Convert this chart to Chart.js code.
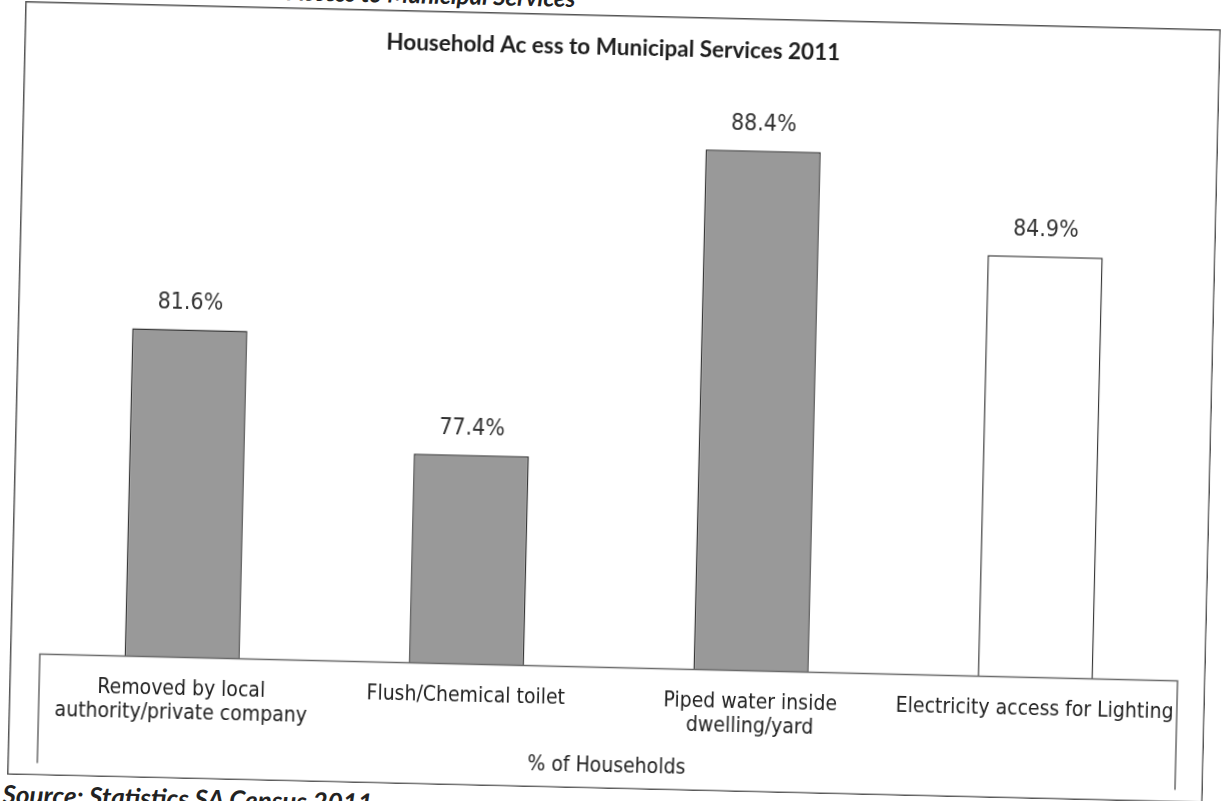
<!DOCTYPE html>
<html>
<head>
<meta charset="utf-8">
<title>Household Access to Municipal Services 2011</title>
<script src="https://cdn.jsdelivr.net/npm/chart.js@4.4.1/dist/chart.umd.min.js"></script>
<style>
  html, body { margin: 0; padding: 0; background: #ffffff; overflow: hidden; width: 1224px; height: 801px; }
  #page {
    position: absolute; left: 0; top: 0; width: 1224px; height: 840px;
    transform: rotate(1.35deg); transform-origin: 612px 400px;
    background: #ffffff;
  }
  #caption {
    position: absolute; left: 0; width: 566px; top: -13px;
    text-align: right; font: italic 700 24px Lato, "Open Sans", sans-serif;
    line-height: 24px; color: #222; white-space: nowrap;
  }
  #source {
    position: absolute; left: 12px; top: 794px;
    font: italic 700 26px Lato, "Open Sans", sans-serif;
    line-height: 28px; color: #222; white-space: nowrap;
  }
  #chartBox { position: absolute; left: 16px; top: 15px; width: 1196px; height: 774px; }
</style>
</head>
<body>
<div id="page">
  <div id="caption">Household Access to Municipal Services</div>
  <div id="chartBox"><canvas id="chart" width="1196" height="774"></canvas></div>
  <div id="source">Source: Statistics SA Census 2011</div>
</div>
<script>
// Services and the share of households with access (%)
const services = [
  ["Removed by local", "authority/private company"],
  ["Flush/Chemical toilet"],
  ["Piped water inside", "dwelling/yard"],
  ["Electricity access for Lighting"]
];
const householdShare = [81.6, 77.4, 88.4, 84.9];
const axisRange = [70, 90];

const labelFont = '"DejaVu Sans Condensed", "DejaVu Sans", sans-serif';

// white chart area with a thin border around the whole chart
const frame = {
  id: 'frame',
  beforeDraw(chart) {
    const { ctx, width, height } = chart;
    ctx.save();
    ctx.fillStyle = '#ffffff';
    ctx.fillRect(0, 0, width, height);
    ctx.strokeStyle = '#555555';
    ctx.lineWidth = 1.5;
    ctx.strokeRect(0.75, 0.75, width - 1.5, height - 1.5);
    ctx.restore();
  },
  // category axis drawn as an open box under the plot
  afterDraw(chart) {
    const { ctx, chartArea } = chart;
    const bottom = 761.5;
    ctx.save();
    ctx.strokeStyle = '#6a6a6a';
    ctx.lineWidth = 1.5;
    ctx.beginPath();
    ctx.moveTo(chartArea.left, bottom);
    ctx.lineTo(chartArea.left, chartArea.bottom);
    ctx.lineTo(chartArea.right, chartArea.bottom);
    ctx.lineTo(chartArea.right, bottom);
    ctx.stroke();
    ctx.restore();
  }
};

// percentage printed above each bar
const valueLabels = {
  id: 'valueLabels',
  afterDatasetsDraw(chart) {
    const { ctx } = chart;
    const meta = chart.getDatasetMeta(0);
    ctx.save();
    ctx.font = '23px ' + labelFont;
    ctx.fillStyle = '#333333';
    ctx.textAlign = 'center';
    ctx.textBaseline = 'middle';
    meta.data.forEach((bar, i) => {
      ctx.fillText(householdShare[i].toFixed(1) + '%', bar.x, bar.y - 26);
    });
    ctx.restore();
  }
};

new Chart(document.getElementById('chart'), {
  type: 'bar',
  data: {
    labels: services,
    datasets: [{
      label: '% of Households',
      data: householdShare,
      backgroundColor: ['#999999', '#999999', '#999999', '#ffffff'],
      borderColor: '#363636',
      borderWidth: 1.5,
      categoryPercentage: 1,
      barPercentage: 0.405
    }]
  },
  options: {
    responsive: false,
    animation: false,
    devicePixelRatio: 1,
    layout: { padding: { left: 10, right: 28, top: 0, bottom: 0 } },
    plugins: {
      legend: { display: false },
      tooltip: { enabled: false },
      title: {
        display: true,
        text: 'Household Ac ess to Municipal Services 2011',
        color: '#1e1e1e',
        font: { family: 'Lato, "Open Sans", sans-serif', size: 22.5, weight: 'bold', lineHeight: 1.2 },
        padding: { top: 19, bottom: 41 }
      }
    },
    scales: {
      // value axis kept invisible; it only reserves a narrow margin
      y: {
        display: true,
        min: axisRange[0], max: axisRange[1],
        ticks: { display: false },
        grid: { display: false },
        border: { display: false },
        afterFit(scale) { scale.width = 20; }
      },
      x: {
        grid: { display: false, drawTicks: false },
        border: { display: false },
        ticks: {
          color: '#222222',
          font: { family: labelFont, size: 21, lineHeight: '24px' },
          padding: 20,
          maxRotation: 0,
          autoSkip: false
        },
        title: {
          display: true,
          text: '% of Households',
          color: '#222222',
          font: { family: labelFont, size: 21, lineHeight: '24px' },
          padding: { top: 0, bottom: 10.5 }
        },
        afterFit(scale) { scale.height = 121.5; }
      }
    }
  },
  plugins: [frame, valueLabels]
});
</script>
</body>
</html>
